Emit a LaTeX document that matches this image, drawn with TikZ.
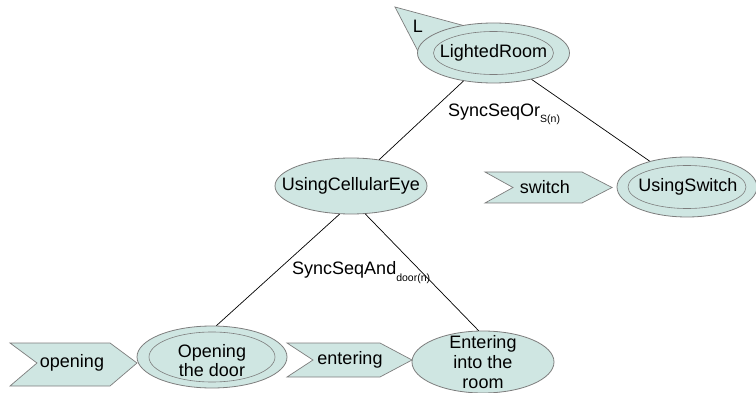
\documentclass[tikz,border=0pt]{standalone}
\usepackage{fontspec}
\setmainfont{Liberation Sans}
\usetikzlibrary{shapes.geometric}
\definecolor{tealfill}{RGB}{207,230,226}
\definecolor{ellgray}{RGB}{125,125,125}
\tikzset{
  outerell/.style={ellipse, draw=ellgray, fill=tealfill, inner sep=0pt, line width=0.8pt},
  innerell/.style={ellipse, draw=ellgray, inner sep=0pt, line width=0.6pt},
  chev/.style={draw=ellgray, fill=tealfill, line width=0.7pt},
  txt/.style={font=\fontsize{18}{20}\selectfont, inner sep=0pt, align=center},
  conn/.style={draw=black, line width=0.7pt}
}
\begin{document}
\begin{tikzpicture}[x=1pt,y=-1pt]
\useasboundingbox (0,0) rectangle (756,393);
% L triangle
\draw[chev] (395,7) -- (480,30) -- (421,57) -- cycle;
\node[txt] (Llbl) at (418,26) {L};
% ellipses
\node[outerell, minimum width=152pt, minimum height=60pt] (lr) at (493.5,53) {};
\node[innerell, minimum width=120pt, minimum height=43pt] (lrin) at (493.5,53) {};
\node[txt] (lrtxt) at (493.5,53) {LightedRoom};

\node[outerell, minimum width=152pt, minimum height=56pt] (uce) at (351,186) {};
\node[txt] (ucetxt) at (351,186) {UsingCellularEye};

\node[outerell, minimum width=140pt, minimum height=60pt] (us) at (687,187) {};
\node[innerell, minimum width=118pt, minimum height=43pt] (usin) at (687,187) {};
\node[txt] (ustxt) at (688,187) {UsingSwitch};

\node[outerell, minimum width=150pt, minimum height=62pt] (od) at (212,357) {};
\node[innerell, minimum width=126pt, minimum height=50pt] (odin) at (212,357) {};
\node[txt, font=\fontsize{18}{19}\selectfont] (odtxt) at (212,361) {Opening\\the door};

\node[outerell, minimum width=142pt, minimum height=62pt] (er) at (483,362) {};
\node[txt] (ertxt) at (483,362) {Entering\\into the\\room};

% chevrons
\draw[chev] (485,172) -- (582,172) -- (612,187.5) -- (582,203) -- (485,203) -- (513,187.5) -- cycle;
\node[txt] (sw) at (545,187.5) {switch};
\draw[chev] (10,343) -- (110,343) -- (137,363) -- (110,386) -- (10,386) -- (37,363) -- cycle;
\node[txt] (op) at (72,363) {opening};
\draw[chev] (287,343) -- (380,343) -- (412,360) -- (380,377) -- (287,377) -- (313,360) -- cycle;
\node[txt] (en) at (350,360) {entering};

% connectors
\draw[conn] (lr) -- (uce);
\draw[conn] (lr) -- (us);
\draw[conn] (uce.-112) -- (od.82);
\draw[conn] (uce.-63) -- (er.98);

% labels
\node[txt, anchor=base west] (or) at (448,117)
  {SyncSeqOr\raisebox{-6pt}{\fontsize{10.5}{11}\selectfont S(n)}};
\node[txt, anchor=base west] (and) at (292,275)
  {SyncSeqAnd\raisebox{-7pt}{\fontsize{10.5}{11}\selectfont door(n)}};
\end{tikzpicture}
\end{document}
